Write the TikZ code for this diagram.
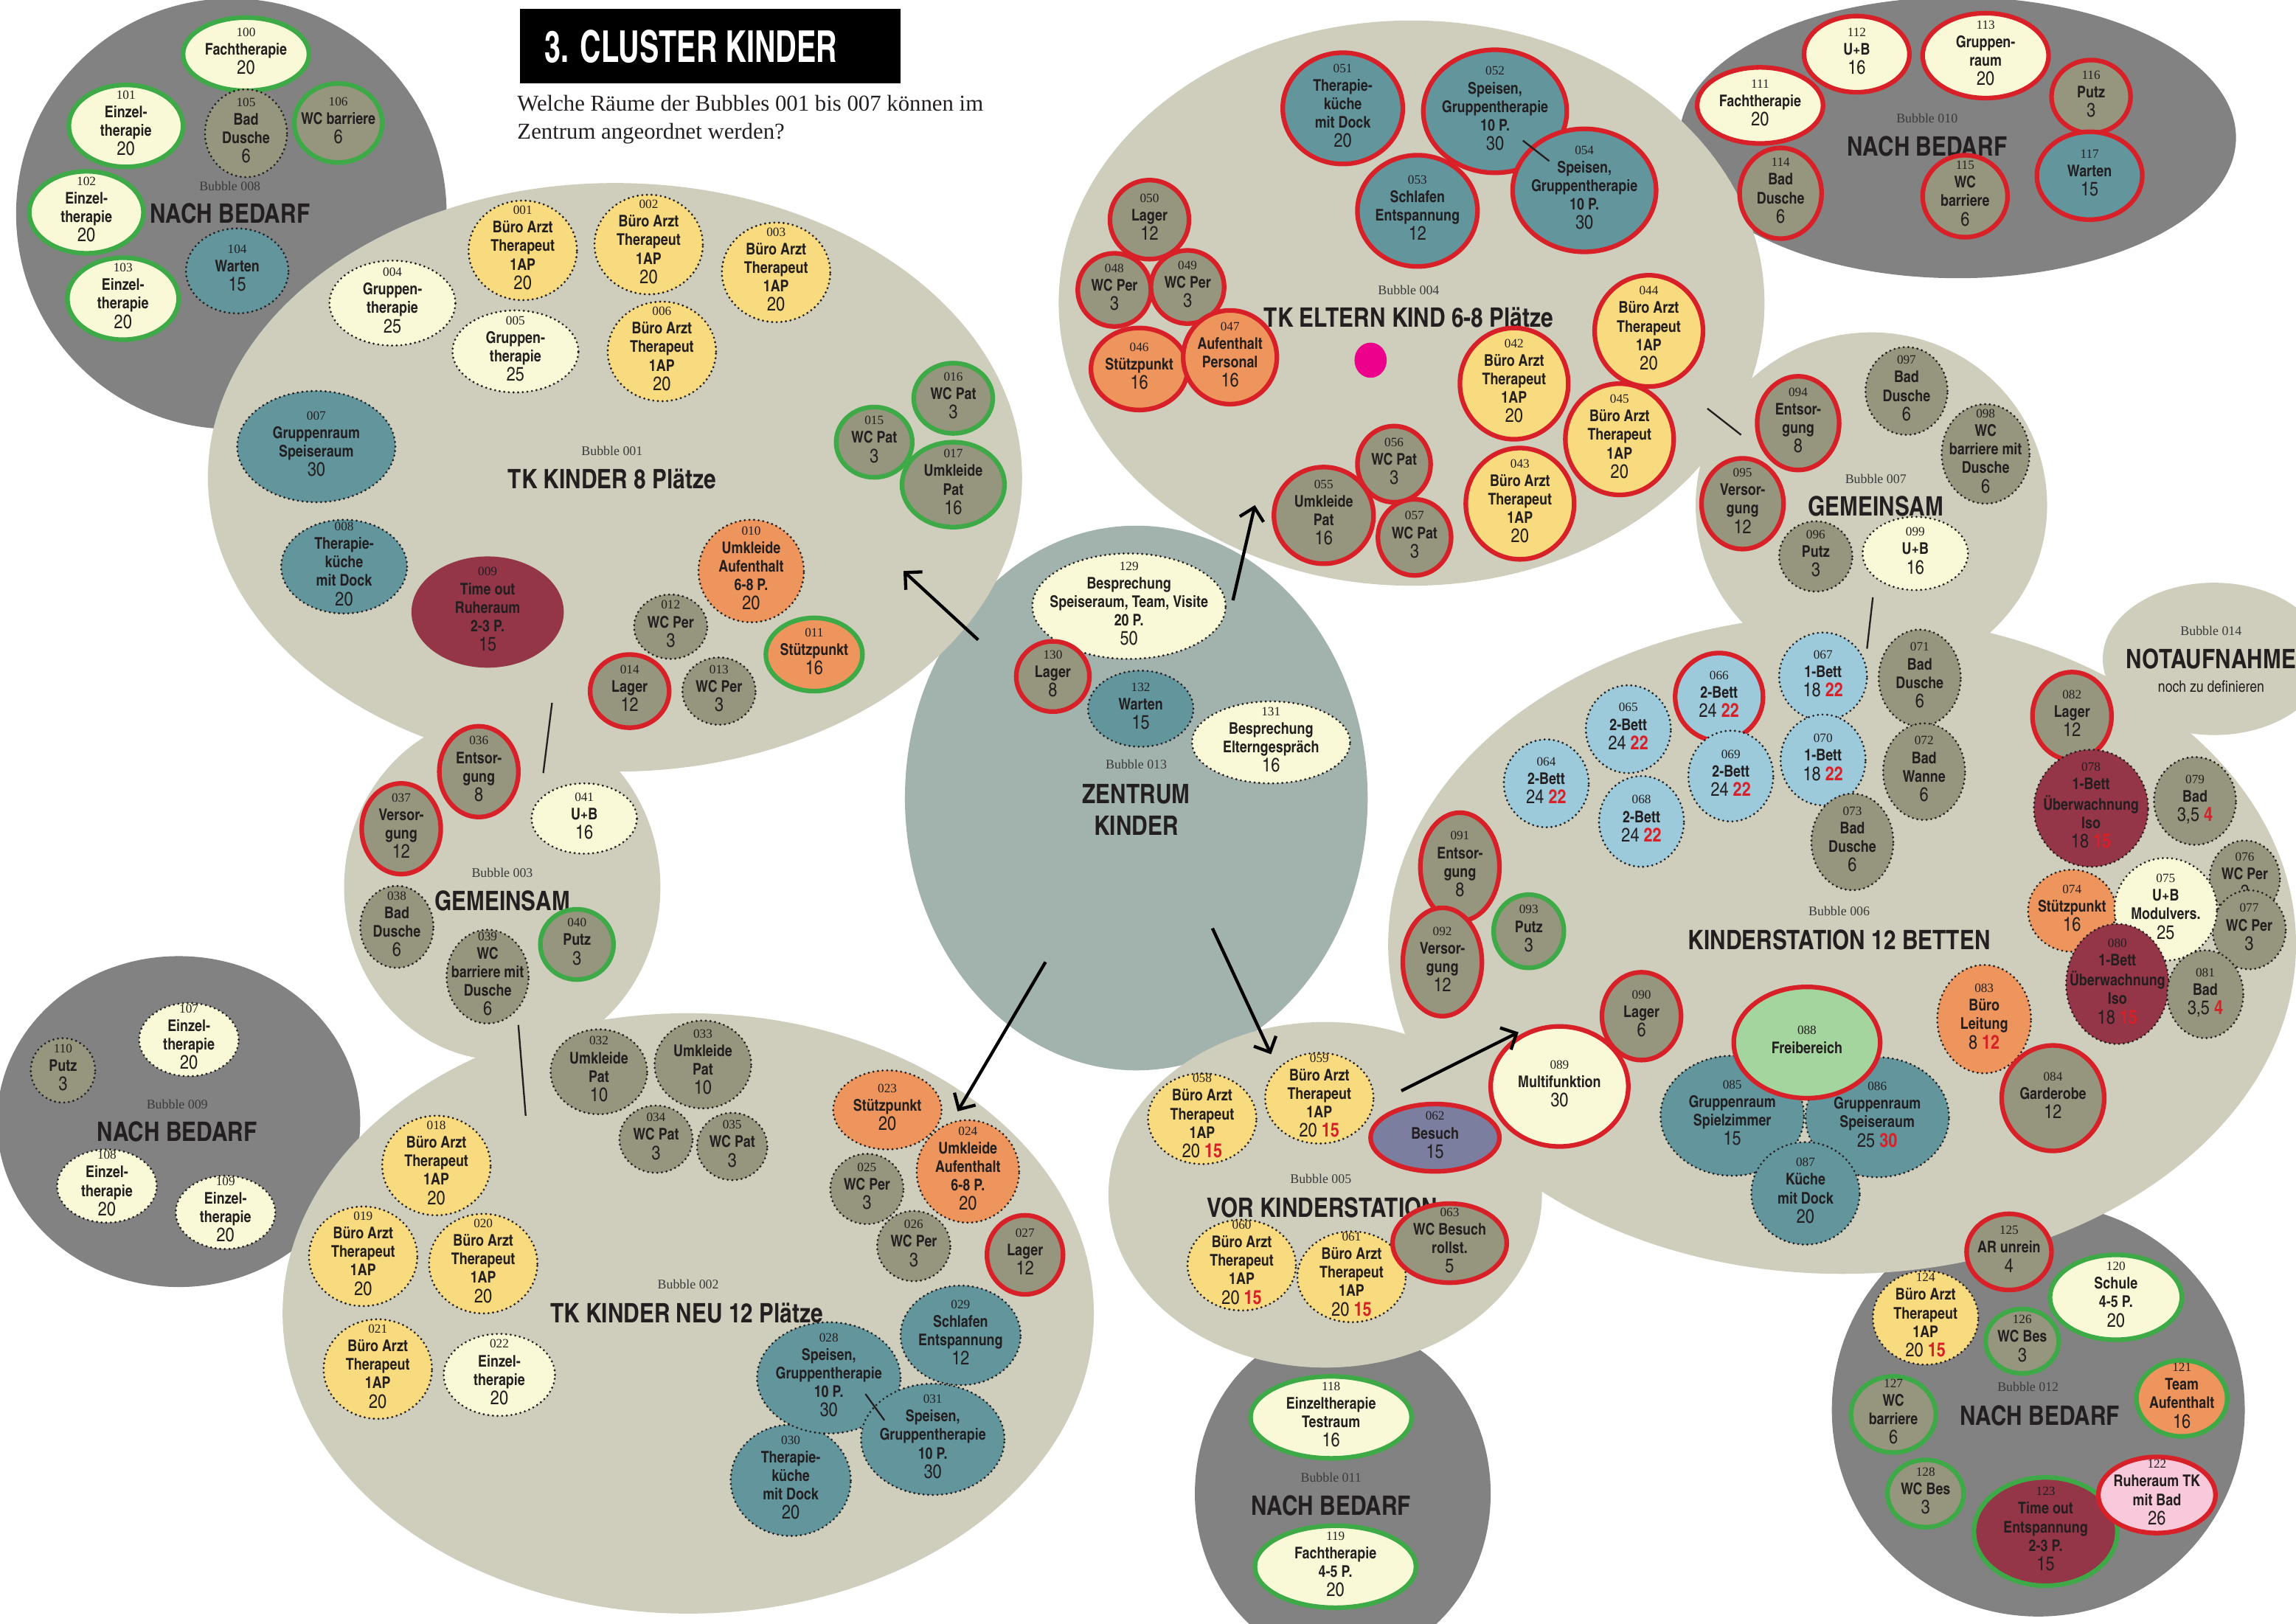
\documentclass[tikz,border=0pt]{standalone}
\usepackage{fontspec}
\setmainfont{Liberation Serif}
\newfontfamily\cnf{texgyreheroscn}[Extension=.otf,UprightFont=*-regular,BoldFont=*-bold]
\newfontfamily\cnt{texgyreheroscn-bold}[Extension=.otf,FakeStretch=0.81]
\usetikzlibrary{shapes.geometric,arrows.meta}
\definecolor{cTxt}{HTML}{231F20}
\definecolor{cDark}{HTML}{3A3A3A}
\definecolor{cBeige}{HTML}{CFCDBC}
\definecolor{cGray}{HTML}{828282}
\definecolor{cZen}{HTML}{A2B2AD}
\definecolor{cOli}{HTML}{96957D}
\definecolor{cTea}{HTML}{63959D}
\definecolor{cYel}{HTML}{F8DA7F}
\definecolor{cCrm}{HTML}{FAF9D7}
\definecolor{cOrg}{HTML}{EE955D}
\definecolor{cMar}{HTML}{953548}
\definecolor{cBlu}{HTML}{9DCADA}
\definecolor{cGrf}{HTML}{A5D59E}
\definecolor{cPur}{HTML}{7B7E9F}
\definecolor{cPnk}{HTML}{F8C9DA}
\definecolor{cRed}{HTML}{D82028}
\definecolor{cGrn}{HTML}{3DAA47}
\definecolor{cMag}{HTML}{EC008C}
\newcommand\numf{\rmfamily\mdseries\fontsize{5.2}{6}\selectfont}
\newcommand\areaf{\cnf\mdseries\fontsize{8}{7.8}\selectfont}
\newcommand\labf{\cnf\bfseries\fontsize{6.6}{7.6}\selectfont}
\newcommand\rdn[1]{{\color{cRed}\cnf\bfseries #1}}
\newcommand\ara[1]{{\areaf #1}}
\newcommand\rtx[1]{\raisebox{-1.6pt}{\makebox[0pt]{\smash{\begin{tabular}{@{}c@{}}#1\end{tabular}}}}}
\newcommand\room[6]{\node[room={#3}{#4},#5] (r#1) at (#2) {\rtx{{\numf #1}\\#6}};}
\tikzset{
 room/.style 2 args={shape=ellipse, inner sep=0pt, outer sep=0pt, minimum width=#1*1.2pt, minimum height=#2*1.2pt, font=\labf, text=cTxt},
 bub/.style 2 args={shape=ellipse, inner sep=0pt, outer sep=0pt, minimum width=#1*1.2pt, minimum height=#2*1.2pt},
 yel/.style={fill=cYel}, crm/.style={fill=cCrm}, tea/.style={fill=cTea}, oli/.style={fill=cOli},
 org/.style={fill=cOrg}, mar/.style={fill=cMar}, blu/.style={fill=cBlu}, grf/.style={fill=cGrf},
 pur/.style={fill=cPur}, pnk/.style={fill=cPnk},
 dotb/.style={draw=cTxt, line width=0.95pt, dash pattern=on 0pt off 1.9pt, line cap=round},
 redb/.style={draw=cRed, line width=1.9pt},
 grnb/.style={draw=cGrn, line width=1.9pt},
 nob/.style={},
 bnum/.style={font=\rmfamily\fontsize{5.4}{6}\selectfont, text=cDark, inner sep=0pt},
 btitle/.style={font=\cnf\bfseries\fontsize{11}{13.2}\selectfont, text=cTxt, inner sep=0pt, align=center},
 arr/.style={draw=black, line width=1.3pt, -{Straight Barb[length=5pt,width=10pt,line width=1.3pt]}},
 link/.style={draw=cTxt, line width=0.7pt},
}
\begin{document}
\begin{tikzpicture}[x=0.6pt,y=-0.6pt]
\useasboundingbox (0,0) rectangle (1568,1109);
\clip (0,0) rectangle (1568,1109);
\fill[white] (0,0) rectangle (1568,1109);
% ---------- gray bubbles
\node[bub={147}{147},fill=cGray] (b008) at (158,146) {};
\node[bub={124}{113},fill=cGray] (b009) at (122,766) {};
\node[bub={190}{96},fill=cGray] (b010) at (1337,94) {};
\node[bub={101}{115},fill=cGray] (b011) at (917,1020) {};
\node[bub={141}{141},fill=cGray] (b012) at (1392,963) {};
% ---------- zentrum
\node[bub={158}{186},fill=cZen] (b013) at (776,545) {};
% ---------- beige bubbles
\node[bub={278}{201},fill=cBeige] (b001) at (420,326) {};
\node[bub={277}{205},fill=cBeige] (b002) at (470,897) {};
\node[bub={108}{118},fill=cBeige] (b003) at (343,606) {};
\node[bub={241}{193},fill=cBeige] (b004) at (964,207) {};
\node[bub={148}{118},fill=cBeige] (b005) at (905,816) {};
\node[bub={310}{225},fill=cBeige] (b006) at (1258,645) {};
\node[bub={120}{118},fill=cBeige] (b007) at (1278,345) {};
\node[bub={76}{52},fill=cBeige] (b014) at (1512,450) {};
% ---------- title
\node[fill=black, minimum width=156pt, minimum height=30.6pt, inner sep=0pt] (tbox) at (485,31.5) {};
\node[font=\cnt\fontsize{18}{20}\selectfont, text=white, inner sep=0pt] (ttl) at (472,32) {3. CLUSTER KINDER};
\node[anchor=base west, font=\rmfamily\fontsize{9.3}{11.4}\selectfont, text=cTxt, inner sep=0pt] (q1) at (353,76) {Welche Räume der Bubbles 001 bis 007 können im};
\node[anchor=base west, font=\rmfamily\fontsize{9.3}{11.4}\selectfont, text=cTxt, inner sep=0pt] (q2) at (353,95) {Zentrum angeordnet werden?};
% ---------- bubble labels
\node[bnum] (b001a) at (418,308) {Bubble 001};
\node[btitle] (b001b) at (418,327) {TK KINDER 8 Plätze};
\node[bnum] (b002a) at (470,877) {Bubble 002};
\node[btitle] (b002b) at (469,897) {TK KINDER NEU 12 Plätze};
\node[bnum] (b003a) at (343,596) {Bubble 003};
\node[btitle] (b003b) at (343,615) {GEMEINSAM};
\node[bnum] (b004a) at (962,198) {Bubble 004};
\node[btitle] (b004b) at (962,217) {TK ELTERN KIND 6-8 Plätze};
\node[bnum] (b005a) at (902,805) {Bubble 005};
\node[btitle] (b005b) at (903,825) {VOR KINDERSTATION};
\node[bnum] (b006a) at (1256,622) {Bubble 006};
\node[btitle] (b006b) at (1256,642) {KINDERSTATION 12 BETTEN};
\node[bnum] (b007a) at (1281,327) {Bubble 007};
\node[btitle] (b007b) at (1281,346) {GEMEINSAM};
\node[bnum] (b008a) at (157,127) {Bubble 008};
\node[btitle] (b008b) at (157,146) {NACH BEDARF};
\node[bnum] (b009a) at (121,754) {Bubble 009};
\node[btitle] (b009b) at (121,773) {NACH BEDARF};
\node[bnum] (b010a) at (1316,81) {Bubble 010};
\node[btitle] (b010b) at (1316,100) {NACH BEDARF};
\node[bnum] (b011a) at (909,1009) {Bubble 011};
\node[btitle] (b011b) at (909,1028) {NACH BEDARF};
\node[bnum] (b012a) at (1385,947) {Bubble 012};
\node[btitle] (b012b) at (1393,967) {NACH BEDARF};
\node[bnum] (b013a) at (776,522) {Bubble 013};
\node[btitle] (b013b) at (776,553) {ZENTRUM\\KINDER};
\node[bnum] (b014a) at (1510,431) {Bubble 014};
\node[btitle] (b014b) at (1510,450) {NOTAUFNAHME};
\node[font=\cnf\fontsize{6.5}{7}\selectfont, text=cTxt, inner sep=0pt] (b014c) at (1510,469) {noch zu definieren};
% ---------- thin links between bubbles
\coordinate (l1a) at (377,480); \coordinate (l1b) at (371,528);
\coordinate (l2a) at (354,700); \coordinate (l2b) at (359,762);
\coordinate (l3a) at (1040,96); \coordinate (l3b) at (1058,110);
\coordinate (l4a) at (591,952); \coordinate (l4b) at (604,970);
\coordinate (l5a) at (1166,279); \coordinate (l5b) at (1189,297);
\coordinate (l6a) at (1279,408); \coordinate (l6b) at (1275,443);
\draw[link] (l1a) -- (l1b);
\draw[link] (l2a) -- (l2b);
\draw[link] (l5a) -- (l5b);
\draw[link] (l6a) -- (l6b);
% ---------- magenta dot
\node[bub={11}{12},fill=cMag] (mdot) at (936,246) {};
% ---------- Bubble 008
\room{100}{168,37}{43}{25}{crm,grnb}{Fachtherapie\\\ara{20}}
\room{101}{86,86}{39}{28}{crm,grnb}{Einzel-\\therapie\\\ara{20}}
\room{105}{168,91}{28}{30}{oli,dotb}{Bad\\Dusche\\\ara{6}}
\room{106}{231,84}{30}{27}{oli,grnb}{WC barriere\\\ara{6}}
\room{102}{59,145}{39}{28}{crm,grnb}{Einzel-\\therapie\\\ara{20}}
\room{103}{84,204}{38}{28}{crm,grnb}{Einzel-\\therapie\\\ara{20}}
\room{104}{162,185}{35}{29}{tea,dotb}{Warten\\\ara{15}}
% ---------- Bubble 001
\room{001}{357,171}{37}{34}{yel,dotb}{Büro Arzt\\Therapeut\\1AP\\\ara{20}}
\room{002}{443,167}{37}{34}{yel,dotb}{Büro Arzt\\Therapeut\\1AP\\\ara{20}}
\room{003}{530,186}{37}{34}{yel,dotb}{Büro Arzt\\Therapeut\\1AP\\\ara{20}}
\room{004}{268,207}{43}{29}{crm,dotb}{Gruppen-\\therapie\\\ara{25}}
\room{005}{352,240}{43}{28}{crm,dotb}{Gruppen-\\therapie\\\ara{25}}
\room{006}{452,240}{37}{34}{yel,dotb}{Büro Arzt\\Therapeut\\1AP\\\ara{20}}
\room{007}{216,305}{54}{38}{tea,dotb}{Gruppenraum\\Speiseraum\\\ara{30}}
\room{008}{235,387}{43}{32}{tea,dotb}{Therapie-\\küche\\mit Dock\\\ara{20}}
\room{009}{333,418}{52}{38}{mar,nob}{Time out\\Ruheraum\\2-3 P.\\\ara{15}}
\room{010}{513,390}{36}{35}{org,dotb}{Umkleide\\Aufenthalt\\6-8 P.\\\ara{20}}
\room{011}{556,447}{33}{25}{org,grnb}{Stützpunkt\\\ara{16}}
\room{012}{458,428}{25}{22}{oli,dotb}{WC Per\\\ara{3}}
\room{013}{491,472}{25}{23}{oli,dotb}{WC Per\\\ara{3}}
\room{014}{430,472}{27}{25}{oli,redb}{Lager\\\ara{12}}
\room{015}{597,302}{26}{24}{oli,grnb}{WC Pat\\\ara{3}}
\room{016}{651,272}{27}{24}{oli,grnb}{WC Pat\\\ara{3}}
\room{017}{651,331}{35}{29}{oli,grnb}{Umkleide\\Pat\\\ara{16}}
% ---------- Bubble 003
\room{036}{327,527}{27}{31}{oli,redb}{Entsor-\\gung\\\ara{8}}
\room{037}{274,566}{27}{31}{oli,redb}{Versor-\\gung\\\ara{12}}
\room{041}{399,559}{36}{24}{crm,dotb}{U+B\\\ara{16}}
\room{038}{271,633}{25}{28}{oli,dotb}{Bad\\Dusche\\\ara{6}}
\room{039}{333,667}{28}{32}{oli,dotb}{WC\\barriere mit\\Dusche\\\ara{6}}
\room{040}{394,645}{25}{24}{oli,grnb}{Putz\\\ara{3}}
% ---------- Bubble 009
\room{110}{43,731}{22}{22}{oli,dotb}{Putz\\\ara{3}}
\room{107}{129,710}{34}{25}{crm,dotb}{Einzel-\\therapie\\\ara{20}}
\room{108}{73,810}{34}{25}{crm,dotb}{Einzel-\\therapie\\\ara{20}}
\room{109}{154,828}{34}{25}{crm,dotb}{Einzel-\\therapie\\\ara{20}}
% ---------- Bubble 002
\room{032}{409,732}{33}{29}{oli,dotb}{Umkleide\\Pat\\\ara{10}}
\room{033}{480,727}{33}{30}{oli,dotb}{Umkleide\\Pat\\\ara{10}}
\room{034}{448,778}{25}{23}{oli,dotb}{WC Pat\\\ara{3}}
\room{035}{500,783}{24}{23}{oli,dotb}{WC Pat\\\ara{3}}
\room{018}{298,796}{37}{34}{yel,dotb}{Büro Arzt\\Therapeut\\1AP\\\ara{20}}
\room{019}{248,858}{37}{34}{yel,dotb}{Büro Arzt\\Therapeut\\1AP\\\ara{20}}
\room{020}{330,863}{37}{34}{yel,dotb}{Büro Arzt\\Therapeut\\1AP\\\ara{20}}
\room{021}{258,935}{37}{34}{yel,dotb}{Büro Arzt\\Therapeut\\1AP\\\ara{20}}
\room{022}{341,939}{38}{28}{crm,dotb}{Einzel-\\therapie\\\ara{20}}
\room{023}{606,758}{37}{27}{org,dotb}{Stützpunkt\\\ara{20}}
\room{024}{661,800}{35}{35}{org,dotb}{Umkleide\\Aufenthalt\\6-8 P.\\\ara{20}}
\room{025}{592,812}{25}{24}{oli,dotb}{WC Per\\\ara{3}}
\room{026}{624,851}{25}{24}{oli,dotb}{WC Per\\\ara{3}}
\room{027}{700,857}{26}{27}{oli,redb}{Lager\\\ara{12}}
\room{029}{656,912}{41}{34}{tea,dotb}{Schlafen\\Entspannung\\\ara{12}}
\room{030}{540,1011}{41}{38}{tea,dotb}{Therapie-\\küche\\mit Dock\\\ara{20}}
\room{028}{566,941}{49}{38}{tea,dotb}{Speisen,\\Gruppentherapie\\10 P.\\\ara{30}}
\room{031}{637,983}{49}{38}{tea,dotb}{Speisen,\\Gruppentherapie\\10 P.\\\ara{30}}
\draw[link] (l4a) -- (l4b);
% ---------- Bubble 013
\room{129}{771,414}{66}{36}{crm,dotb}{Besprechung\\Speiseraum, Team, Visite\\20 P.\\\ara{50}}
\room{130}{719,462}{25}{24}{oli,redb}{Lager\\\ara{8}}
\room{132}{779,484}{36}{26}{tea,dotb}{Warten\\\ara{15}}
\room{131}{868,507}{54}{28}{crm,dotb}{Besprechung\\Elterngespräch\\\ara{16}}
% ---------- Bubble 004
\room{051}{917,74}{41}{38}{tea,redb}{Therapie-\\küche\\mit Dock\\\ara{20}}
\room{052}{1021,76}{49}{42}{tea,redb}{Speisen,\\Gruppentherapie\\10 P.\\\ara{30}}
\room{053}{968,144}{41}{38}{tea,redb}{Schlafen\\Entspannung\\\ara{12}}
\room{054}{1082,130}{49}{42}{tea,redb}{Speisen,\\Gruppentherapie\\10 P.\\\ara{30}}
\draw[link] (l3a) -- (l3b);
\room{050}{785,150}{27}{27}{oli,redb}{Lager\\\ara{12}}
\room{048}{761,198}{25}{25}{oli,redb}{WC Per\\\ara{3}}
\room{049}{811,196}{25}{25}{oli,redb}{WC Per\\\ara{3}}
\room{046}{778,252}{33}{28}{org,redb}{Stützpunkt\\\ara{16}}
\room{047}{840,244}{32}{32}{org,redb}{Aufenthalt\\Personal\\\ara{16}}
\room{044}{1126,226}{37}{38}{yel,redb}{Büro Arzt\\Therapeut\\1AP\\\ara{20}}
\room{042}{1034,262}{37}{38}{yel,redb}{Büro Arzt\\Therapeut\\1AP\\\ara{20}}
\room{045}{1106,300}{37}{38}{yel,redb}{Büro Arzt\\Therapeut\\1AP\\\ara{20}}
\room{043}{1038,344}{37}{38}{yel,redb}{Büro Arzt\\Therapeut\\1AP\\\ara{20}}
\room{056}{952,317}{25}{26}{oli,redb}{WC Pat\\\ara{3}}
\room{055}{904,352}{34}{33}{oli,redb}{Umkleide\\Pat\\\ara{16}}
\room{057}{966,367}{25}{26}{oli,redb}{WC Pat\\\ara{3}}
% ---------- Bubble 010
\room{112}{1268,37}{36}{26}{crm,redb}{U+B\\\ara{16}}
\room{113}{1356,38}{43}{29}{crm,redb}{Gruppen-\\raum\\\ara{20}}
\room{111}{1202,72}{43}{26}{crm,redb}{Fachtherapie\\\ara{20}}
\room{116}{1428,66}{27}{25}{oli,redb}{Putz\\\ara{3}}
\room{114}{1216,132}{28}{31}{oli,redb}{Bad\\Dusche\\\ara{6}}
\room{115}{1342,134}{29}{28}{oli,redb}{WC\\barriere\\\ara{6}}
\room{117}{1427,120}{36}{30}{tea,redb}{Warten\\\ara{15}}
% ---------- Bubble 007
\room{094}{1228,289}{28}{32}{oli,redb}{Entsor-\\gung\\\ara{8}}
\room{095}{1190,344}{28}{31}{oli,redb}{Versor-\\gung\\\ara{12}}
\room{097}{1302,267}{28}{30}{oli,dotb}{Bad\\Dusche\\\ara{6}}
\room{098}{1356,310}{30}{34}{oli,dotb}{WC\\barriere mit\\Dusche\\\ara{6}}
\room{096}{1240,380}{25}{24}{oli,dotb}{Putz\\\ara{3}}
\room{099}{1308,378}{36}{25}{crm,dotb}{U+B\\\ara{16}}
% ---------- Bubble 006
\room{066}{1174,476}{30}{30}{blu,redb}{2-Bett\\\ara{24 \rdn{22}}}
\room{067}{1245,462}{30}{30}{blu,dotb}{1-Bett\\\ara{18 \rdn{22}}}
\room{065}{1112,498}{29}{30}{blu,dotb}{2-Bett\\\ara{24 \rdn{22}}}
\room{064}{1056,535}{29}{30}{blu,dotb}{2-Bett\\\ara{24 \rdn{22}}}
\room{069}{1182,530}{29}{31}{blu,dotb}{2-Bett\\\ara{24 \rdn{22}}}
\room{070}{1245,519}{29}{31}{blu,dotb}{1-Bett\\\ara{18 \rdn{22}}}
\room{068}{1121,561}{29}{31}{blu,dotb}{2-Bett\\\ara{24 \rdn{22}}}
\room{071}{1311,463}{28}{33}{oli,dotb}{Bad\\Dusche\\\ara{6}}
\room{072}{1314,527}{28}{33}{oli,dotb}{Bad\\Wanne\\\ara{6}}
\room{073}{1265,575}{28}{33}{oli,dotb}{Bad\\Dusche\\\ara{6}}
\room{082}{1415,489}{27}{30}{oli,redb}{Lager\\\ara{12}}
\room{078}{1428,552}{39}{40}{mar,dotb}{1-Bett\\Überwachnung\\Iso\\\ara{18 \rdn{15}}}
\room{079}{1499,547}{28}{30}{oli,dotb}{Bad\\\ara{3,5 \rdn{4}}}
\room{076}{1533,600}{24}{26}{oli,dotb}{WC Per\\\ara{3}}
\room{077}{1536,635}{25}{27}{oli,dotb}{WC Per\\\ara{3}}
\room{074}{1415,622}{30}{28}{org,dotb}{Stützpunkt\\\ara{16}}
\room{075}{1479,621}{35}{35}{crm,dotb}{U+B\\Modulvers.\\\ara{25}}
\room{080}{1446,672}{35}{41}{mar,dotb}{1-Bett\\Überwachnung\\Iso\\\ara{18 \rdn{15}}}
\room{081}{1506,679}{26}{30}{oli,dotb}{Bad\\\ara{3,5 \rdn{4}}}
\room{083}{1355,696}{32}{37}{org,dotb}{Büro\\Leitung\\\ara{8 \rdn{12}}}
\room{084}{1402,750}{35}{36}{oli,redb}{Garderobe\\\ara{12}}
\room{085}{1183,762}{49}{41}{tea,dotb}{Gruppenraum\\Spielzimmer\\\ara{15}}
\room{086}{1282,763}{49}{41}{tea,dotb}{Gruppenraum\\Speiseraum\\\ara{25 \rdn{30}}}
\room{087}{1233,815}{37}{35}{tea,dotb}{Küche\\mit Dock\\\ara{20}}
\room{088}{1234,712}{50}{38}{grf,redb}{Freibereich}
\room{090}{1121,694}{27}{30}{oli,redb}{Lager\\\ara{6}}
\room{089}{1065,742}{47}{41}{crm,redb}{Multifunktion\\\ara{30}}
\room{091}{997,592}{27}{37}{oli,redb}{Entsor-\\gung\\\ara{8}}
\room{092}{985,657}{27}{37}{oli,redb}{Versor-\\gung\\\ara{12}}
\room{093}{1044,636}{24}{25}{oli,grnb}{Putz\\\ara{3}}
% ---------- Bubble 005
\room{058}{821,764}{37}{31}{yel,dotb}{Büro Arzt\\Therapeut\\1AP\\\ara{20 \rdn{15}}}
\room{059}{901,750}{37}{31}{yel,dotb}{Büro Arzt\\Therapeut\\1AP\\\ara{20 \rdn{15}}}
\room{062}{980,777}{44}{23}{pur,redb}{Besuch\\\ara{15}}
\room{060}{848,864}{37}{31}{yel,dotb}{Büro Arzt\\Therapeut\\1AP\\\ara{20 \rdn{15}}}
\room{061}{923,872}{37}{31}{yel,dotb}{Büro Arzt\\Therapeut\\1AP\\\ara{20 \rdn{15}}}
\room{063}{990,849}{39}{27}{oli,redb}{WC Besuch\\rollst.\\\ara{5}}
% ---------- Bubble 011
\room{118}{909,968}{55}{28}{crm,grnb}{Einzeltherapie\\Testraum\\\ara{16}}
\room{119}{912,1070}{55}{28}{crm,grnb}{Fachtherapie\\4-5 P.\\\ara{20}}
% ---------- Bubble 012
\room{125}{1372,855}{29}{26}{oli,redb}{AR unrein\\\ara{4}}
\room{120}{1445,886}{45}{29}{crm,grnb}{Schule\\4-5 P.\\\ara{20}}
\room{124}{1315,900}{36}{32}{yel,dotb}{Büro Arzt\\Therapeut\\1AP\\\ara{20 \rdn{15}}}
\room{126}{1381,916}{25}{22}{oli,grnb}{WC Bes\\\ara{3}}
\room{121}{1490,955}{31}{26}{org,grnb}{Team\\Aufenthalt\\\ara{16}}
\room{127}{1293,966}{29}{26}{oli,grnb}{WC\\barriere\\\ara{6}}
\room{128}{1315,1020}{26}{23}{oli,grnb}{WC Bes\\\ara{3}}
\room{123}{1397,1046}{49}{37}{mar,grnb}{Time out\\Entspannung\\2-3 P.\\\ara{15}}
\room{122}{1473,1021}{40}{26}{pnk,redb}{Ruheraum TK\\mit Bad\\\ara{26}}
% ---------- arrows
\coordinate (a1s) at (668,437); \coordinate (a1e) at (617,390);
\coordinate (a2s) at (842,410); \coordinate (a2e) at (857,345);
\coordinate (a3s) at (714,657); \coordinate (a3e) at (654,759);
\coordinate (a4s) at (828,634); \coordinate (a4e) at (868,720);
\coordinate (a5s) at (957,745); \coordinate (a5e) at (1037,705);
\draw[arr] (a1s) -- (a1e);
\draw[arr] (a2s) -- (a2e);
\draw[arr] (a3s) -- (a3e);
\draw[arr] (a4s) -- (a4e);
\draw[arr] (a5s) -- (a5e);
\end{tikzpicture}
\end{document}
